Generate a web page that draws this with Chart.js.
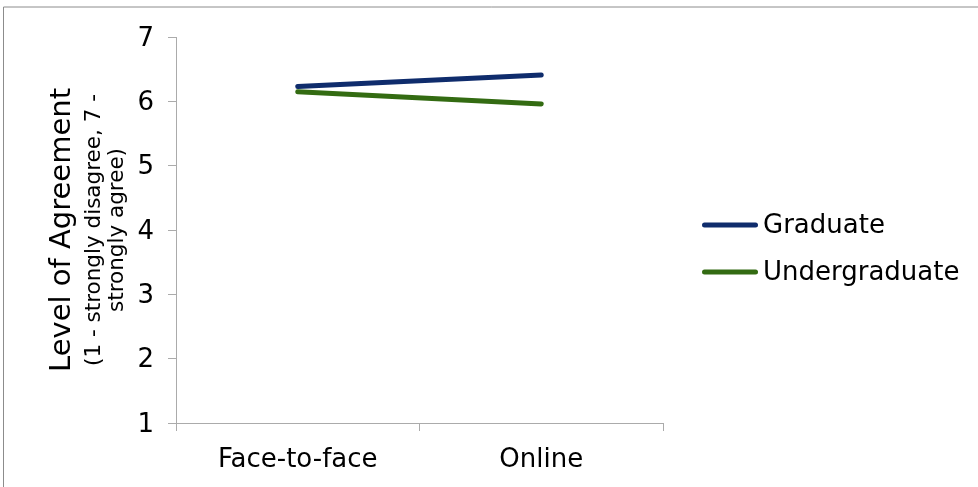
<!DOCTYPE html>
<html>
<head>
<meta charset="utf-8">
<script src="https://cdn.jsdelivr.net/npm/chart.js@4/dist/chart.umd.min.js"></script>
<style>
  html, body { margin: 0; padding: 0; background: #ffffff; }
  #wrap { width: 978px; height: 487px; position: relative; }
</style>
</head>
<body>
<div id="wrap"><canvas id="chart"></canvas></div>
<script>
// Survey means by course delivery mode
const categories = ['Face-to-face', 'Online'];
const graduate = [6.23, 6.41];
const undergraduate = [6.15, 5.96];
const yTicks = [1, 2, 3, 4, 5, 6, 7];

const FONT = '"DejaVu Sans", Verdana, sans-serif';
const AXIS_GRAY = '#ababab';

// Frame, rotated axis title and right-hand legend
const decorations = {
  id: 'decorations',
  beforeDraw(chart) {
    const ctx = chart.ctx;
    ctx.save();
    ctx.strokeStyle = '#8c8c8c';
    ctx.lineWidth = 1;
    ctx.beginPath();
    ctx.moveTo(3.5, chart.height + 2);
    ctx.lineTo(3.5, 7);
    ctx.lineTo(chart.width + 2, 7);
    ctx.stroke();
    ctx.restore();
  },
  afterDraw(chart) {
    const ctx = chart.ctx;
    const area = chart.chartArea;
    const midY = (area.top + area.bottom) / 2;

    // Axis title
    ctx.save();
    ctx.translate(70, midY);
    ctx.rotate(-Math.PI / 2);
    ctx.fillStyle = '#000';
    ctx.textAlign = 'center';
    ctx.textBaseline = 'alphabetic';
    ctx.font = '29px ' + FONT;
    ctx.fillText('Level of Agreement', 0, 0);
    ctx.font = '21.5px ' + FONT;
    ctx.fillText('(1 - strongly disagree, 7 -', 0, 30);
    ctx.fillText('strongly agree)', 0, 53);
    ctx.restore();

    // Legend
    ctx.save();
    ctx.font = '26px ' + FONT;
    ctx.textAlign = 'left';
    ctx.textBaseline = 'middle';
    chart.data.datasets.forEach((ds, i) => {
      const y = 225 + i * 47;
      ctx.strokeStyle = ds.borderColor;
      ctx.lineWidth = 5;
      ctx.lineCap = 'round';
      ctx.beginPath();
      ctx.moveTo(704.5, y);
      ctx.lineTo(755.5, y);
      ctx.stroke();
      ctx.fillStyle = '#000';
      ctx.fillText(ds.label, 763, y + 1);
    });
    ctx.restore();
  }
};

new Chart(document.getElementById('chart'), {
  type: 'line',
  data: {
    labels: categories,
    datasets: [
      {
        label: 'Graduate',
        data: graduate,
        borderColor: '#0f2c6c',
        backgroundColor: '#0f2c6c',
        borderWidth: 5,
        borderCapStyle: 'round',
        pointRadius: 0,
        pointHoverRadius: 0,
        tension: 0
      },
      {
        label: 'Undergraduate',
        data: undergraduate,
        borderColor: '#336b12',
        backgroundColor: '#336b12',
        borderWidth: 5,
        borderCapStyle: 'round',
        pointRadius: 0,
        pointHoverRadius: 0,
        tension: 0
      }
    ]
  },
  options: {
    responsive: true,
    maintainAspectRatio: false,
    animation: false,
    devicePixelRatio: 1,
    layout: { padding: { left: 0, top: 37, right: 315, bottom: 0 } },
    plugins: {
      legend: { display: false },
      tooltip: { enabled: false },
      title: { display: false }
    },
    scales: {
      x: {
        type: 'category',
        offset: true,
        afterFit(scale) { scale.height = 64; },
        grid: {
          offset: true,
          drawOnChartArea: false,
          drawTicks: true,
          tickLength: 8,
          color: AXIS_GRAY,
          lineWidth: 1
        },
        border: { display: true, color: AXIS_GRAY, width: 1 },
        ticks: {
          color: '#000',
          padding: 14,
          maxRotation: 0,
          font: { family: FONT, size: 26 }
        }
      },
      y: {
        min: 1,
        max: 7,
        afterFit(scale) { scale.width = 176; },
        afterBuildTicks(scale) { scale.ticks = yTicks.map(v => ({ value: v })); },
        grid: {
          drawOnChartArea: false,
          drawTicks: true,
          tickLength: 8,
          color: AXIS_GRAY,
          lineWidth: 1
        },
        border: { display: true, color: AXIS_GRAY, width: 1 },
        ticks: {
          color: '#000',
          padding: 14,
          labelOffset: 2,
          font: { family: FONT, size: 26 }
        }
      }
    }
  },
  plugins: [decorations]
});
</script>
</body>
</html>
